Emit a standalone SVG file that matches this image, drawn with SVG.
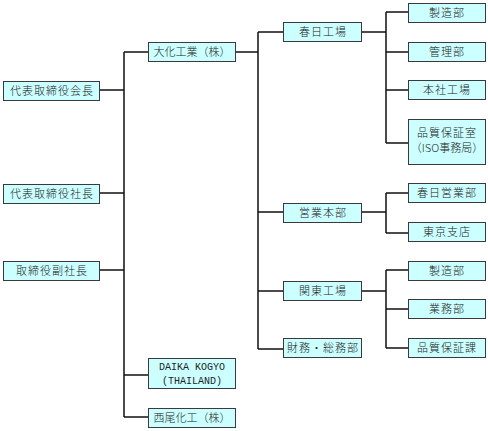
<svg xmlns="http://www.w3.org/2000/svg" width="488" height="431" viewBox="0 0 488 431">
<style>
.b{fill:#ccffff;stroke:#3a3a3a;stroke-width:1}
.t{font-family:"Noto Sans CJK JP","Noto Sans",sans-serif;font-size:11px;font-weight:300;letter-spacing:1px;fill:#222;text-anchor:middle}
.p{letter-spacing:0}
.m{font-family:"Liberation Mono","DejaVu Sans Mono",monospace;font-size:10px;fill:#222;text-anchor:middle}
.c{fill:none;stroke:#111;stroke-width:1.5}
</style>
<rect width="488" height="431" fill="#fff"/>
<g id="connectors" class="c">
<path d="M99 90H124M99 193H124M99 270H124M124 52V417M124 52H148M124 375H148M124 417H148"/>
<path d="M235 52H258M258 32V349M258 32H283M258 212H283M258 291H283M258 349H283"/>
<path d="M361 32H386M386 12V143M386 12H408M386 52H408M386 90H408M386 143H408"/>
<path d="M361 212H386M386 193V233M386 193H408M386 233H408"/>
<path d="M361 291H386M386 270V348M386 270H408M386 309H408M386 348H408"/>
</g>
<g id="n1"><rect class="b" x="3.5" y="81.5" width="96" height="19"/><text class="t" x="52" y="95">代表取締役会長</text></g>
<g id="n2"><rect class="b" x="3.5" y="184.5" width="96" height="19"/><text class="t" x="52" y="198">代表取締役社長</text></g>
<g id="n3"><rect class="b" x="3.5" y="261.5" width="96" height="19"/><text class="t" x="52" y="275">取締役副社長</text></g>
<g id="n4"><rect class="b" x="148.5" y="42.5" width="87" height="19"/><text class="t p" x="192" y="56">大化工業（株）</text></g>
<g id="n5"><rect class="b" x="148.5" y="358.5" width="87" height="30"/><text class="m" x="192" y="370">DAIKA KOGYO</text><text class="m" x="192" y="384">(THAILAND)</text></g>
<g id="n6"><rect class="b" x="148.5" y="408.5" width="87" height="19"/><text class="t p" x="192" y="422">西尾化工（株）</text></g>
<g id="n7"><rect class="b" x="283.5" y="22.5" width="78" height="19"/><text class="t" x="323" y="36">春日工場</text></g>
<g id="n8"><rect class="b" x="283.5" y="203.5" width="78" height="19"/><text class="t" x="323" y="217">営業本部</text></g>
<g id="n9"><rect class="b" x="283.5" y="281.5" width="78" height="19"/><text class="t" x="323" y="295">関東工場</text></g>
<g id="n10"><rect class="b" x="283.5" y="338.5" width="78" height="19"/><text class="t" x="323" y="352">財務・総務部</text></g>
<g id="n11"><rect class="b" x="408.5" y="3.5" width="77" height="19"/><text class="t" x="447" y="17">製造部</text></g>
<g id="n12"><rect class="b" x="408.5" y="42.5" width="77" height="19"/><text class="t" x="447" y="56">管理部</text></g>
<g id="n13"><rect class="b" x="408.5" y="80.5" width="77" height="19"/><text class="t" x="447" y="94">本社工場</text></g>
<g id="n14"><rect class="b" x="408.5" y="119.5" width="77" height="45"/><text class="t" x="447" y="137">品質保証室</text><text class="t p" x="447" y="152">（ISO事務局）</text></g>
<g id="n15"><rect class="b" x="408.5" y="183.5" width="77" height="19"/><text class="t" x="447" y="197">春日営業部</text></g>
<g id="n16"><rect class="b" x="408.5" y="222.5" width="77" height="19"/><text class="t" x="447" y="236">東京支店</text></g>
<g id="n17"><rect class="b" x="408.5" y="261.5" width="77" height="19"/><text class="t" x="447" y="275">製造部</text></g>
<g id="n18"><rect class="b" x="408.5" y="299.5" width="77" height="19"/><text class="t" x="447" y="313">業務部</text></g>
<g id="n19"><rect class="b" x="408.5" y="338.5" width="77" height="19"/><text class="t" x="447" y="352">品質保証課</text></g>
</svg>
